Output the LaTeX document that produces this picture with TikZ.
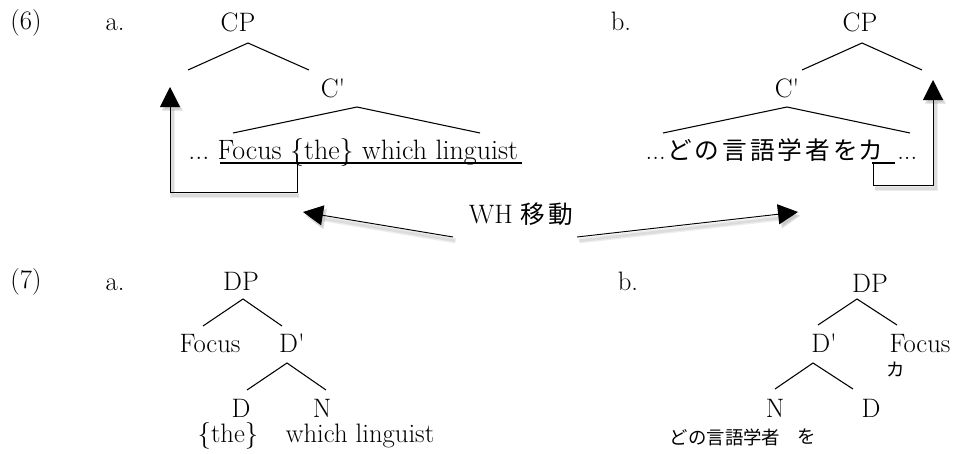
\documentclass[tikz,border=0pt]{standalone}
\usepackage{fontspec}
\newfontfamily\cjk{Noto Sans CJK JP}
\newfontfamily\cjkwide[LetterSpace=12]{Noto Sans CJK JP}
\usetikzlibrary{arrows.meta}
\begin{document}
\begin{tikzpicture}[x=0.75pt,y=-0.75pt,
  lbl/.style={inner sep=0pt, font=\fontsize{20}{24}\selectfont},
  bigline/.style={inner sep=0pt, font=\fontsize{21}{25}\selectfont},
  jp/.style={inner sep=0pt, font={\cjkwide\fontsize{18.5}{24}\selectfont}},
  jps/.style={inner sep=0pt, font={\cjk\fontsize{13.8}{16}\selectfont}},
  branch/.style={line width=0.8pt},
  mover/.style={line width=0.7pt, -{Triangle[length=15pt,width=15pt]}},
  moveshadow/.style={mover, draw=black, opacity=0.07, line width=#1,
    transform canvas={shift={(1.8pt,-2.8pt)}}},
  uline/.style={line width=1pt}
]
\useasboundingbox (0,0) rectangle (959,453);

% ---------------- (6a) ----------------
\node[lbl, anchor=base] (ex6) at (26,30) {(6)};
\node[lbl, anchor=base] (a6) at (115,31) {a.};
\node[lbl, anchor=base] (cpA) at (238,32) {CP};
\coordinate (cpAtop) at (248,43);
\coordinate (cpAl) at (188,70);
\coordinate (cpAr) at (309,70);
\draw[branch] (cpAl) -- (cpAtop) -- (cpAr);
\node[lbl, anchor=base] (cbA) at (333,97) {C\textquotesingle};
\coordinate (cbAtop) at (357,107);
\coordinate (cbAl) at (233,133);
\coordinate (cbAr) at (480,133);
\draw[branch] (cbAl) -- (cbAtop) -- (cbAr);
\node[bigline, anchor=base west] (lineA) at (188,159) {...\ Focus \{the\} which linguist};
\coordinate (ulAl) at (220,163);
\coordinate (ulAr) at (522,163);
\draw[uline] (ulAl) -- (ulAr);
% movement path of the focus phrase
\coordinate (mvA0) at (297,163);
\coordinate (mvA1) at (297,192);
\coordinate (mvA2) at (170,192);
\coordinate (mvAtip) at (170,87);
\draw[moveshadow=4pt] (mvA1) -- (mvA2) -- (mvAtip);
\draw[moveshadow=2pt] (mvA1) -- (mvA2) -- (mvAtip);
\draw[mover] (mvA0) -- (mvA1) -- (mvA2) -- (mvAtip);

% ---------------- (6b) ----------------
\node[lbl, anchor=base] (b6) at (621,31) {b.};
\node[lbl, anchor=base] (cpB) at (860,32) {CP};
\coordinate (cpBtop) at (862,43);
\coordinate (cpBl) at (802,70);
\coordinate (cpBr) at (922,70);
\draw[branch] (cpBl) -- (cpBtop) -- (cpBr);
\node[lbl, anchor=base] (cbB) at (787,97) {C\textquotesingle};
\coordinate (cbBtop) at (787,107);
\coordinate (cbBl) at (663,133);
\coordinate (cbBr) at (910,133);
\draw[branch] (cbBl) -- (cbBtop) -- (cbBr);
\node[lbl, anchor=base east] (preB) at (666,159) {...};
\node[jp, anchor=west] (jpB) at (667,150) {どの言語学者を};
\node[jp, anchor=west] (kaB) at (jpB.east) {カ};
\node[lbl, anchor=base west] (postB) at (897,159) {...};
\coordinate (ulBl) at (872,163);
\coordinate (ulBr) at (895,163);
\draw[uline] (ulBl) -- (ulBr);
% movement path of ka
\coordinate (mvB0) at (873,163);
\coordinate (mvB1) at (873,185);
\coordinate (mvB2) at (933,185);
\coordinate (mvBtip) at (933,80);
\draw[moveshadow=4pt] (mvB1) -- (mvB2) -- (mvBtip);
\draw[moveshadow=2pt] (mvB1) -- (mvB2) -- (mvBtip);
\draw[mover] (mvB0) -- (mvB1) -- (mvB2) -- (mvBtip);

% ---------------- WH movement label ----------------
\node[lbl] (wh) at (521,214) {WH {\cjkwide\fontsize{18.5}{24}\selectfont 移動}};
\coordinate (whL0) at (453,237);
\coordinate (whLtip) at (303,212);
\coordinate (whR0) at (577,237);
\coordinate (whRtip) at (798,212);
\foreach \w in {4pt,2pt}{
  \draw[moveshadow=\w] (whL0) -- (whLtip);
  \draw[moveshadow=\w] (whR0) -- (whRtip);
}
\draw[mover] (whL0) -- (whLtip);
\draw[mover] (whR0) -- (whRtip);

% ---------------- (7a) ----------------
\node[lbl, anchor=base] (ex7) at (26,288) {(7)};
\node[lbl, anchor=base] (a7) at (115,290) {a.};
\node[lbl, anchor=base] (dpA) at (241,290) {DP};
\coordinate (dpAtop) at (243,299);
\coordinate (dpAl) at (203,326);
\coordinate (dpAr) at (282,326);
\draw[branch] (dpAl) -- (dpAtop) -- (dpAr);
\node[lbl, anchor=base] (focA) at (210,352) {Focus};
\node[lbl, anchor=base] (dbA) at (292,352) {D\textquotesingle};
\coordinate (dbAtop) at (287,363);
\coordinate (dbAl) at (247,390);
\coordinate (dbAr) at (326,390);
\draw[branch] (dbAl) -- (dbAtop) -- (dbAr);
\node[lbl, anchor=base] (dA) at (241,417) {D};
\node[lbl, anchor=base] (nA) at (322,417) {N};
\node[lbl, anchor=base] (theA) at (228,442) {\{the\}};
\node[lbl, anchor=base] (wlA) at (360,442) {which linguist};

% ---------------- (7b) ----------------
\node[lbl, anchor=base] (b7) at (628,290) {b.};
\node[lbl, anchor=base] (dpB) at (870,292) {DP};
\coordinate (dpBtop) at (857,299);
\coordinate (dpBl) at (818,325);
\coordinate (dpBr) at (897,325);
\draw[branch] (dpBl) -- (dpBtop) -- (dpBr);
\node[lbl, anchor=base] (dbB) at (824,352) {D\textquotesingle};
\node[lbl, anchor=base] (focB) at (920,352) {Focus};
\node[jps] (kaB2) at (896,370) {カ};
\coordinate (dbBtop) at (813,363);
\coordinate (dbBl) at (775,389);
\coordinate (dbBr) at (853,389);
\draw[branch] (dbBl) -- (dbBtop) -- (dbBr);
\node[lbl, anchor=base] (nB) at (775,417) {N};
\node[lbl, anchor=base] (dB) at (871,417) {D};
\node[jps] (donoB) at (725,437) {どの言語学者};
\node[jps] (woB) at (807,437) {を};
\end{tikzpicture}
\end{document}
